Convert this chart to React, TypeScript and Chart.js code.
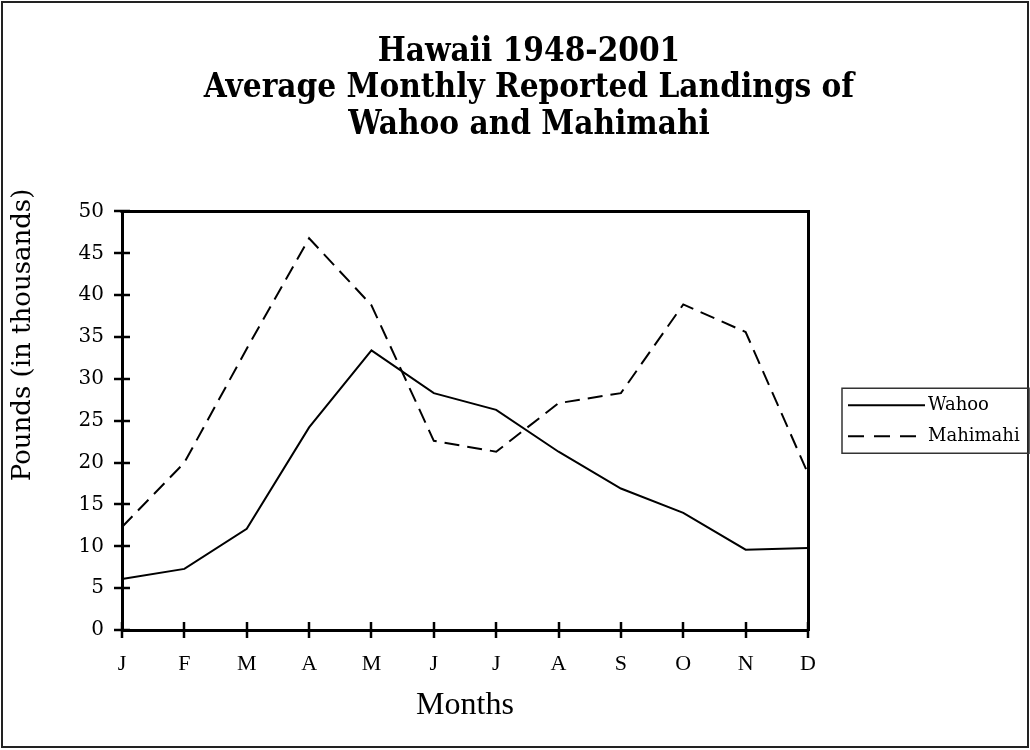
import React, { useEffect, useRef } from "react";
import { Chart, registerables } from "chart.js";

Chart.register(...registerables);

const months = ["J", "F", "M", "A", "M", "J", "J", "A", "S", "O", "N", "D"];
const wahoo = [6.1, 7.3, 12.1, 24.2, 33.4, 28.3, 26.3, 21.3, 16.9, 14.0, 9.6, 9.8];
const mahimahi = [12.3, 20.0, 33.6, 46.8, 38.8, 22.6, 21.3, 27.1, 28.3, 38.9, 35.6, 18.7];
const seriesNames = ["Wahoo", "Mahimahi"];
const titleLines = ["Hawaii 1948-2001", "Average Monthly Reported Landings of", "Wahoo and Mahimahi"];
const yAxisTitle = "Pounds (in thousands)";
const xAxisTitle = "Months";
const yMin = 0;
const yMax = 50;
const yStep = 5;

const SERIF = '"DejaVu Serif", serif';
const TIMES = '"Liberation Serif", "Times New Roman", serif';

const framePlugin = {
  id: "frame",
  beforeDraw(chart: any) {
    const { ctx, width, height } = chart;
    ctx.save();
    ctx.fillStyle = "#ffffff";
    ctx.fillRect(0, 0, width, height);
    ctx.strokeStyle = "#222222";
    ctx.lineWidth = 2;
    ctx.strokeRect(2, 2, width - 4, height - 5);
    ctx.restore();
  },
};

const decorPlugin = {
  id: "decor",
  afterDraw(chart: any) {
    const { ctx, chartArea: ca } = chart;
    ctx.save();
    ctx.strokeStyle = "#000";
    // top border of plot area
    ctx.lineWidth = 3;
    ctx.beginPath();
    ctx.moveTo(ca.left - 1.5, ca.top);
    ctx.lineTo(ca.right + 1.5, ca.top);
    ctx.stroke();
    // crossing tick marks
    ctx.lineWidth = 2.5;
    const ys = chart.scales.y;
    ys.ticks.forEach((_t: any, i: number) => {
      const py = Math.round(ys.getPixelForTick(i));
      ctx.beginPath();
      ctx.moveTo(ca.left - 8, py);
      ctx.lineTo(ca.left + 8, py);
      ctx.stroke();
    });
    const xs = chart.scales.x;
    xs.ticks.forEach((_t: any, i: number) => {
      const px = Math.round(xs.getPixelForTick(i));
      ctx.beginPath();
      ctx.moveTo(px, ca.bottom - 8);
      ctx.lineTo(px, ca.bottom + 8);
      ctx.stroke();
    });
    ctx.restore();

    // y axis title
    ctx.save();
    ctx.fillStyle = "#000";
    ctx.font = `26px ${SERIF}`;
    ctx.textAlign = "center";
    ctx.textBaseline = "middle";
    ctx.translate(23, ca.top + (ca.bottom - ca.top) * 0.295);
    ctx.rotate(-Math.PI / 2);
    ctx.fillText(yAxisTitle, 0, 0);
    ctx.restore();

    // legend (boxed, to the right of the plot)
    const ds = chart.data.datasets;
    const lx = ca.right + 34;
    const cy = (ca.top + ca.bottom) / 2;
    const rowH = 31;
    const lineLen = 77;
    const y0 = cy - (rowH * (ds.length - 1)) / 2;
    ctx.save();
    ctx.strokeStyle = "#333";
    ctx.lineWidth = 1.5;
    ctx.strokeRect(lx, y0 - 17, 187, rowH * (ds.length - 1) + 34);
    ctx.font = `18px ${SERIF}`;
    ctx.textBaseline = "middle";
    ctx.textAlign = "left";
    ctx.fillStyle = "#000";
    ds.forEach((d: any, i: number) => {
      const y = y0 + i * rowH;
      ctx.strokeStyle = d.borderColor;
      ctx.lineWidth = d.borderWidth;
      ctx.setLineDash(d.borderDash ? [16, 10] : []);
      ctx.beginPath();
      ctx.moveTo(lx + 6, y);
      ctx.lineTo(lx + 6 + lineLen, y);
      ctx.stroke();
      ctx.setLineDash([]);
      ctx.fillText(d.label, lx + 6 + lineLen + 3, y);
    });
    ctx.restore();
  },
};

export default function App() {
  const canvasRef = useRef<HTMLCanvasElement | null>(null);

  useEffect(() => {
    if (!canvasRef.current) return;
    const chart = new Chart(canvasRef.current, {
      type: "line",
      data: {
        labels: months,
        datasets: [
          {
            label: seriesNames[0],
            data: wahoo,
            borderColor: "#000",
            backgroundColor: "#000",
            borderWidth: 2,
            pointRadius: 0,
            tension: 0,
            fill: false,
          },
          {
            label: seriesNames[1],
            data: mahimahi,
            borderColor: "#000",
            backgroundColor: "#000",
            borderWidth: 2,
            borderDash: [15, 8],
            pointRadius: 0,
            tension: 0,
            fill: false,
          },
        ],
      },
      options: {
        animation: false,
        responsive: false,
        maintainAspectRatio: false,
        layout: { padding: { left: 28, right: 0, top: 0, bottom: 25 } },
        plugins: {
          tooltip: { enabled: false },
          legend: { display: false },
          title: {
            display: true,
            text: titleLines,
            color: "#000",
            font: { family: '"DejaVu Serif Condensed", "DejaVu Serif", serif', size: 33, weight: "bold", lineHeight: 1.106 },
            padding: { top: 34, bottom: 68 },
          },
        },
        scales: {
          x: {
            type: "category",
            offset: false,
            grid: { display: false, drawTicks: false },
            border: { display: true, width: 3, color: "#000" },
            ticks: {
              color: "#000",
              font: { family: TIMES, size: 22 },
              padding: 21,
              autoSkip: false,
              maxRotation: 0,
            },
            title: {
              display: true,
              text: xAxisTitle,
              color: "#000",
              font: { family: TIMES, size: 32 },
              padding: { top: 0, bottom: 0 },
            },
            afterFit: (s: any) => {
              s.height = 95;
            },
          },
          y: {
            min: yMin,
            max: yMax,
            grid: { display: false, drawTicks: false },
            border: { display: true, width: 3, color: "#000" },
            ticks: {
              stepSize: yStep,
              color: "#000",
              font: { family: SERIF, size: 20 },
              padding: 18,
            },
            afterFit: (s: any) => {
              s.width = 94;
            },
          },
          y2: {
            position: "right",
            min: yMin,
            max: yMax,
            grid: { display: false, drawTicks: false, drawOnChartArea: false },
            border: { display: true, width: 3, color: "#000" },
            ticks: { display: false },
            afterFit: (s: any) => {
              s.width = 222;
            },
          },
        },
      },
      plugins: [framePlugin, decorPlugin],
    } as any);
    return () => chart.destroy();
  }, []);

  return (
    <div style={{ position: "fixed", left: 0, top: 0, width: 1030, height: 750 }}>
      <canvas ref={canvasRef} width={1030} height={750} style={{ width: 1030, height: 750, display: "block" }} />
    </div>
  );
}
